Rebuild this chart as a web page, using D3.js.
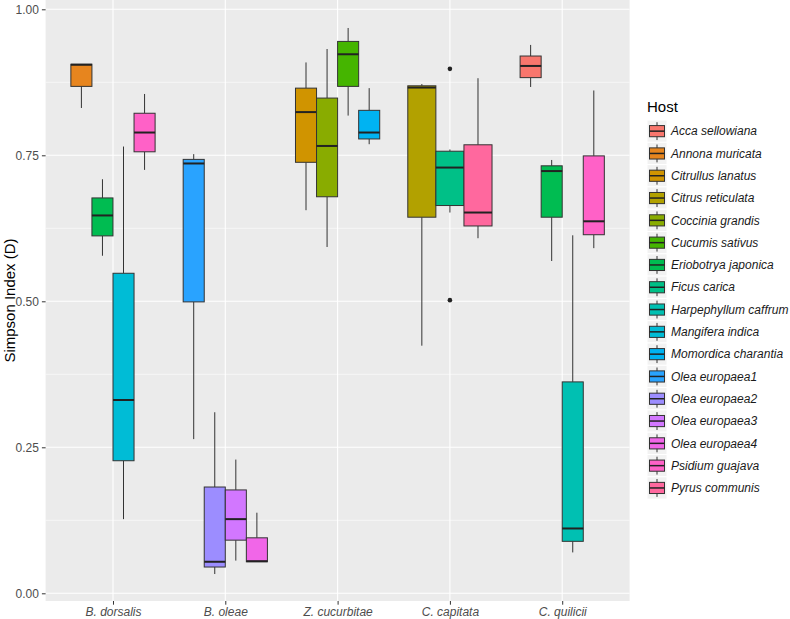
<!DOCTYPE html>
<html>
<head>
<meta charset="utf-8">
<script src="https://cdn.jsdelivr.net/npm/d3@7"></script>
<style>
    body { margin: 0; background: #fff; }
    svg { display: block; font-family: 'Liberation Sans', Arial, sans-serif; }
</style>
</head>
<body>
<svg id="chart" width="790" height="619"></svg>
<script>
// categories on the x axis
const species = ['B. dorsalis', 'B. oleae', 'Z. cucurbitae', 'C. capitata', 'C. quilicii'];

// legend order (fill)
const hosts = [
    'Acca sellowiana', 'Annona muricata', 'Citrullus lanatus', 'Citrus reticulata',
    'Coccinia grandis', 'Cucumis sativus', 'Eriobotrya japonica', 'Ficus carica',
    'Harpephyllum caffrum', 'Mangifera indica', 'Momordica charantia', 'Olea europaea1',
    'Olea europaea2', 'Olea europaea3', 'Olea europaea4', 'Psidium guajava', 'Pyrus communis'
];

// one entry per box
const boxSpecies = [
    'B. dorsalis', 'B. dorsalis', 'B. dorsalis', 'B. dorsalis',
    'B. oleae', 'B. oleae', 'B. oleae', 'B. oleae',
    'Z. cucurbitae', 'Z. cucurbitae', 'Z. cucurbitae', 'Z. cucurbitae',
    'C. capitata', 'C. capitata', 'C. capitata',
    'C. quilicii', 'C. quilicii', 'C. quilicii', 'C. quilicii'
];
const boxHost = [
    'Annona muricata', 'Eriobotrya japonica', 'Mangifera indica', 'Psidium guajava',
    'Olea europaea1', 'Olea europaea2', 'Olea europaea3', 'Olea europaea4',
    'Citrullus lanatus', 'Coccinia grandis', 'Cucumis sativus', 'Momordica charantia',
    'Citrus reticulata', 'Ficus carica', 'Pyrus communis',
    'Acca sellowiana', 'Eriobotrya japonica', 'Harpephyllum caffrum', 'Psidium guajava'
];
const whiskerLow  = [0.831, 0.578, 0.127, 0.725, 0.264, 0.033, 0.056, 0.054, 0.656, 0.593, 0.818, 0.769, 0.424, 0.652, 0.608, 0.867, 0.569, 0.070, 0.591];
const q1          = [0.868, 0.612, 0.227, 0.756, 0.499, 0.045, 0.091, 0.054, 0.738, 0.679, 0.868, 0.778, 0.644, 0.664, 0.629, 0.883, 0.644, 0.089, 0.614];
const median      = [0.905, 0.647, 0.331, 0.789, 0.736, 0.054, 0.127, 0.055, 0.824, 0.766, 0.923, 0.789, 0.866, 0.729, 0.652, 0.903, 0.723, 0.111, 0.637];
const q3          = [0.906, 0.677, 0.548, 0.822, 0.743, 0.182, 0.177, 0.095, 0.865, 0.848, 0.945, 0.827, 0.869, 0.757, 0.768, 0.920, 0.732, 0.362, 0.749];
const whiskerHigh = [0.906, 0.709, 0.765, 0.855, 0.752, 0.310, 0.229, 0.138, 0.909, 0.932, 0.968, 0.865, 0.872, 0.760, 0.882, 0.939, 0.742, 0.613, 0.861];

// outliers
const outlierSpecies = ['C. capitata', 'C. capitata'];
const outlierHost    = ['Ficus carica', 'Ficus carica'];
const outlierValue   = [0.898, 0.502];

const yTicks = [0, 0.25, 0.5, 0.75, 1];
const yMinor = [0.125, 0.375, 0.625, 0.875];

// ggplot-like hue palette (polar LUV, c=100, l=65)
function hueColor(h) {
    const l = 65, c = 100;
    const Xn = 95.047, Yn = 100, Zn = 108.883;
    const U = c * Math.cos(h * Math.PI / 180);
    const V = c * Math.sin(h * Math.PI / 180);
    const Y = Yn * Math.pow((l + 16) / 116, 3);
    const den = Xn + 15 * Yn + 3 * Zn;
    const u = U / (13 * l) + 4 * Xn / den;
    const v = V / (13 * l) + 9 * Yn / den;
    const X = 9 * Y * u / (4 * v);
    const Z = -X / 3 - 5 * Y + 3 * Y / v;
    const lin = [
        (3.240479 * X - 1.537150 * Y - 0.498535 * Z) / 100,
        (-0.969256 * X + 1.875992 * Y + 0.041556 * Z) / 100,
        (0.055648 * X - 0.204043 * Y + 1.057311 * Z) / 100
    ];
    const rgb = lin.map(t => {
        const g = t <= 0.0031308 ? 12.92 * t : 1.055 * Math.pow(t, 1 / 2.4) - 0.055;
        return Math.round(255 * Math.max(0, Math.min(1, g)));
    });
    return d3.rgb(rgb[0], rgb[1], rgb[2]).formatHex();
}

const color = d3.scaleOrdinal()
    .domain(hosts)
    .range(hosts.map((d, i) => hueColor(15 + i * 360 / hosts.length)));

// Canvas margin
const margin = {
    l: 45.6,
    t: 0,
    r: 160.4,
    b: 18,
};

const svg    = d3.select('#chart');
const width  = +svg.attr('width');
const height = +svg.attr('height');
const pw = width - margin.l - margin.r;
const ph = height - margin.t - margin.b;

const xScale = d3.scaleBand().domain(species).range([0, pw]).paddingInner(0).paddingOuter(0.1);
const yScale = d3.scaleLinear().domain([0, 1]).range([593.3, 9.3]);

const g = svg.append('g').attr('transform', `translate(${margin.l},${margin.t})`);

// panel
g.append('rect').attr('width', pw).attr('height', ph).attr('fill', '#EBEBEB');

g.selectAll('.minor').data(yMinor).join('line')
    .attr('x1', 0).attr('x2', pw)
    .attr('y1', d => yScale(d)).attr('y2', d => yScale(d))
    .attr('stroke', '#fff').attr('stroke-width', 0.55);

g.selectAll('.hmajor').data(yTicks).join('line')
    .attr('x1', 0).attr('x2', pw)
    .attr('y1', d => yScale(d)).attr('y2', d => yScale(d))
    .attr('stroke', '#fff').attr('stroke-width', 1.1);

const xc = d => xScale(d) + xScale.bandwidth() / 2;

g.selectAll('.vmajor').data(species).join('line')
    .attr('x1', xc).attr('x2', xc)
    .attr('y1', 0).attr('y2', ph)
    .attr('stroke', '#fff').attr('stroke-width', 1.1);

// boxes
const boxes = boxHost.map((h, i) => ({
    sp: boxSpecies[i], host: h,
    lo: whiskerLow[i], q1: q1[i], med: median[i], q3: q3[i], hi: whiskerHigh[i]
}));

const dodge = {};
species.forEach(s => {
    const hs = boxes.filter(b => b.sp === s).map(b => b.host);
    const c = xc(s);
    const w = xScale.bandwidth() * 0.75;
    dodge[s] = d3.scaleBand().domain(hs).range([c - w / 2, c + w / 2]);
});

const bx = b => dodge[b.sp](b.host);
const bw = b => dodge[b.sp].bandwidth();

const bg = g.selectAll('.box').data(boxes).join('g');

bg.append('line')
    .attr('x1', b => bx(b) + bw(b) / 2).attr('x2', b => bx(b) + bw(b) / 2)
    .attr('y1', b => yScale(b.hi)).attr('y2', b => yScale(b.q3))
    .attr('stroke', '#333').attr('stroke-width', 1);
bg.append('line')
    .attr('x1', b => bx(b) + bw(b) / 2).attr('x2', b => bx(b) + bw(b) / 2)
    .attr('y1', b => yScale(b.q1)).attr('y2', b => yScale(b.lo))
    .attr('stroke', '#333').attr('stroke-width', 1);
bg.append('rect')
    .attr('x', bx).attr('width', bw)
    .attr('y', b => yScale(b.q3))
    .attr('height', b => yScale(b.q1) - yScale(b.q3))
    .attr('fill', b => color(b.host))
    .attr('stroke', '#333').attr('stroke-width', 1);
bg.append('line')
    .attr('x1', bx).attr('x2', b => bx(b) + bw(b))
    .attr('y1', b => yScale(b.med)).attr('y2', b => yScale(b.med))
    .attr('stroke', '#222').attr('stroke-width', 2);

// outliers
const outs = outlierValue.map((v, i) => ({ sp: outlierSpecies[i], host: outlierHost[i], v }));
g.selectAll('.out').data(outs).join('circle')
    .attr('cx', d => dodge[d.sp](d.host) + dodge[d.sp].bandwidth() / 2)
    .attr('cy', d => yScale(d.v))
    .attr('r', 2.3)
    .attr('fill', '#222');

// axes
const yAxis = d3.axisLeft(yScale).tickValues(yTicks).tickFormat(d3.format('.2f')).tickSize(3.7).tickPadding(3);
const xAxis = d3.axisBottom(d3.scalePoint().domain(species).range([xc(species[0]), xc(species[species.length - 1])]))
    .tickSize(3.7).tickPadding(3);

const ya = g.append('g').call(yAxis);
const xa = g.append('g').attr('transform', `translate(0,${ph})`).call(xAxis);

[ya, xa].forEach(a => {
    a.select('.domain').remove();
    a.selectAll('.tick line').attr('stroke', '#333');
    a.selectAll('.tick text')
        .attr('fill', '#4D4D4D')
        .style('font-size', '12px')
        .style('font-family', "'Liberation Sans', Arial, sans-serif");
});
xa.selectAll('.tick text').style('font-style', 'italic');

// y title
svg.append('text')
    .attr('transform', `translate(15,${margin.t + ph / 2}) rotate(-90)`)
    .attr('text-anchor', 'middle')
    .style('font-size', '15px')
    .attr('fill', '#000')
    .text('Simpson Index (D)');

// legend
const lx = 647;
const ly = 120;
const keyH = 22.3;
const keyW = 20;

svg.append('text')
    .attr('x', lx).attr('y', ly - 8)
    .style('font-size', '15px')
    .attr('fill', '#000')
    .text('Host');

const lg = svg.selectAll('.leg').data(hosts).join('g')
    .attr('transform', (d, i) => `translate(${lx},${ly + i * keyH})`);

lg.append('rect').attr('width', keyW).attr('height', keyH).attr('fill', '#F2F2F2')
    .attr('stroke', '#fff').attr('stroke-width', 1);
lg.append('line')
    .attr('x1', keyW / 2).attr('x2', keyW / 2)
    .attr('y1', keyH * 0.1).attr('y2', keyH * 0.9)
    .attr('stroke', '#333').attr('stroke-width', 1);
lg.append('rect')
    .attr('x', keyW * 0.125).attr('width', keyW * 0.75)
    .attr('y', keyH * 0.25).attr('height', keyH * 0.5)
    .attr('fill', d => color(d))
    .attr('stroke', '#333').attr('stroke-width', 1);
lg.append('line')
    .attr('x1', keyW * 0.125).attr('x2', keyW * 0.875)
    .attr('y1', keyH / 2).attr('y2', keyH / 2)
    .attr('stroke', '#222').attr('stroke-width', 1.5);
lg.append('text')
    .attr('x', keyW + 4).attr('y', keyH / 2)
    .attr('dy', '0.35em')
    .style('font-size', '12px')
    .style('font-style', 'italic')
    .attr('fill', '#1a1a1a')
    .text(d => d);
</script>
</body>
</html>
